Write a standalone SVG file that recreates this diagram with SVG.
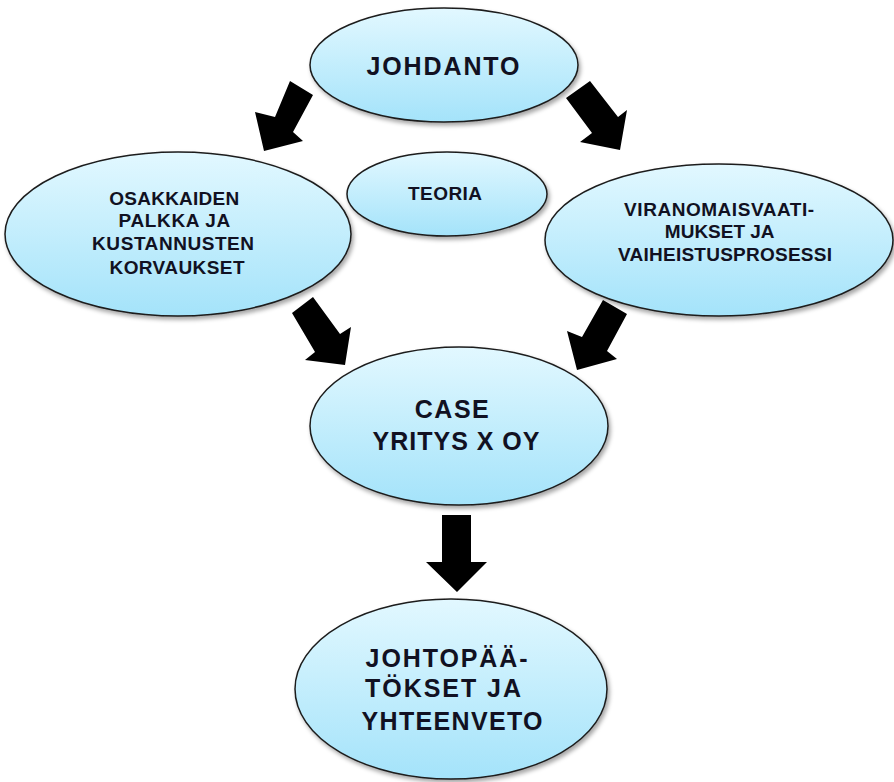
<svg xmlns="http://www.w3.org/2000/svg" width="894" height="782" viewBox="0 0 894 782">
<defs>
<linearGradient id="g" x1="0" y1="0" x2="0" y2="1">
<stop offset="0" stop-color="#e2f8ff"/>
<stop offset="1" stop-color="#a4e3fa"/>
</linearGradient>
<filter id="sh" x="-10%" y="-10%" width="125%" height="130%">
<feDropShadow dx="2" dy="3" stdDeviation="2" flood-color="#000" flood-opacity="0.35"/>
</filter>
</defs>
<style>
.n{fill:url(#g);stroke:#1c1c1c;stroke-width:1.5;filter:url(#sh)}
.t{font-family:"Liberation Sans",Arial,sans-serif;font-weight:bold;fill:#111122;text-anchor:middle}
.a{fill:#000}
</style>
<rect width="894" height="782" fill="#fff"/>
<g id="connectors">
<polygon class="a" points="290,81 313,95 293,132 303,141 264,151 255,112 275,117"/>
<polygon class="a" points="590,81 618,117 627,110 620,150 580,142 592,133 566,98"/>
<polygon class="a" points="313,297 340,334 351,327 345,365 305,360 315,352 292,313"/>
<polygon class="a" points="603,300 627,314 607,351 617,359 577,370 567,331 582,337"/>
<polygon class="a" points="442,515 471,515 471,562 487,562 457,592 426,562 442,562"/>
</g>
<g id="johdanto">
<ellipse class="n" cx="444" cy="65" rx="134" ry="57"/>
<text class="t" x="443" y="75" font-size="25" textLength="153" lengthAdjust="spacing">JOHDANTO</text>
</g>
<g id="osakkaiden">
<ellipse class="n" cx="178" cy="234" rx="173" ry="82"/>
<text class="t" font-size="19">
<tspan x="177" y="205" textLength="130" lengthAdjust="spacing">OSAKKAIDEN</tspan>
<tspan x="177" y="227" textLength="111" lengthAdjust="spacing">PALKKA JA</tspan>
<tspan x="176" y="250" textLength="162" lengthAdjust="spacing">KUSTANNUSTEN</tspan>
<tspan x="177" y="274" textLength="135" lengthAdjust="spacing">KORVAUKSET</tspan>
</text>
</g>
<g id="teoria">
<ellipse class="n" cx="447" cy="194" rx="100" ry="42"/>
<text class="t" x="445" y="200" font-size="19" textLength="74" lengthAdjust="spacing">TEORIA</text>
</g>
<g id="viranomais">
<ellipse class="n" cx="719" cy="240" rx="174" ry="76"/>
<text class="t" font-size="19">
<tspan x="722" y="216" textLength="190" lengthAdjust="spacing">VIRANOMAISVAATI-</tspan>
<tspan x="722" y="238" textLength="109" lengthAdjust="spacingAndGlyphs">MUKSET JA</tspan>
<tspan x="725" y="261" textLength="214" lengthAdjust="spacing">VAIHEISTUSPROSESSI</tspan>
</text>
</g>
<g id="case">
<ellipse class="n" cx="459" cy="426" rx="149" ry="79"/>
<text class="t" font-size="25">
<tspan x="456" y="418" textLength="74" lengthAdjust="spacing">CASE</tspan>
<tspan x="456" y="450" textLength="167" lengthAdjust="spacing">YRITYS X OY</tspan>
</text>
</g>
<g id="johtopaatokset">
<ellipse class="n" cx="451" cy="689" rx="156" ry="90"/>
<text class="t" font-size="25">
<tspan x="451" y="667" textLength="162" lengthAdjust="spacing">JOHTOPÄÄ-</tspan>
<tspan x="447" y="697" textLength="155" lengthAdjust="spacing">TÖKSET JA</tspan>
<tspan x="452" y="730" textLength="181" lengthAdjust="spacing">YHTEENVETO</tspan>
</text>
</g>
</svg>
